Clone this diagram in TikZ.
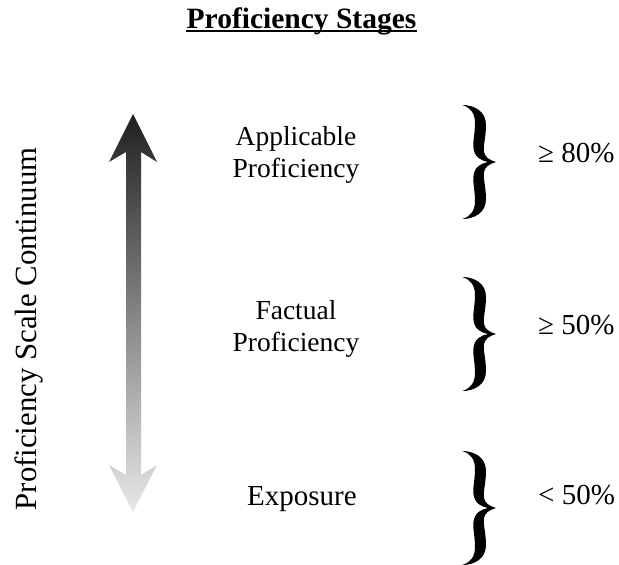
\documentclass[tikz,border=0pt]{standalone}
\usepackage{fontspec}
\setmainfont{Liberation Serif}
\definecolor{arrowtop}{HTML}{202020}
\definecolor{arrowbot}{HTML}{E8E8E8}
\begin{document}
\begin{tikzpicture}[x=1pt,y=-1pt,
  lbl/.style={font=\fontsize{27.5}{32}\selectfont, inner sep=0pt, anchor=base},
  pct/.style={font=\fontsize{29}{32}\selectfont, inner sep=0pt, anchor=base west},
  bigbrace/.pic={
    \fill[black] (0,0) .. controls (12,0) and (24,6) .. (24,20)
      .. controls (24,32) and (21,40) .. (22,47)
      .. controls (23,52) and (27,55) .. (34,57)
      .. controls (27,59) and (23,62) .. (22,67)
      .. controls (21,74) and (24,82) .. (24,94)
      .. controls (24,108) and (12,114) .. (0,114)
      .. controls (8,112) and (13,106) .. (13,96)
      .. controls (13,84) and (10,76) .. (12,68)
      .. controls (13,62) and (20,58) .. (26,57)
      .. controls (20,56) and (13,52) .. (12,46)
      .. controls (10,38) and (13,30) .. (13,18)
      .. controls (13,8) and (8,2) .. (0,0) -- cycle;
  }]
\useasboundingbox (0,0) rectangle (619,565);
% title
\node[font=\bfseries\fontsize{29.5}{33}\selectfont, inner sep=0pt, anchor=base] (title) at (301.5,28) {Proficiency Stages};
\draw[line width=1.3pt] ([yshift=-3pt]title.base west) -- ([yshift=-3pt]title.base east);
% axis label
\node[font=\fontsize{30.8}{34}\selectfont, inner sep=0pt, anchor=base, rotate=90] (axis) at (36,329) {Proficiency Scale Continuum};
% gradient arrow
\shade[top color=arrowtop, bottom color=arrowbot]
  (133,114) -- (157,162) -- (141,152) -- (141,475) -- (157,465) -- (133,512)
  -- (109,465) -- (126,475) -- (126,152) -- (109,162) -- cycle;
% stage labels
\node[lbl] (app1) at (296,145) {Applicable};
\node[lbl] (app2) at (296,177) {Proficiency};
\node[lbl] (fac1) at (296,319) {Factual};
\node[lbl] (fac2) at (296,351) {Proficiency};
\node[lbl, font=\fontsize{29}{32}\selectfont] (exp) at (302,505) {Exposure};
% braces
\pic at (462,105) {bigbrace};
\pic at (462,277) {bigbrace};
\pic at (462,451) {bigbrace};
% percentages
\node[pct] (p80) at (538,162) {≥ 80\%};
\node[pct] (p50) at (538,334) {≥ 50\%};
\node[pct] (p0) at (538,504) {< 50\%};
\end{tikzpicture}
\end{document}
